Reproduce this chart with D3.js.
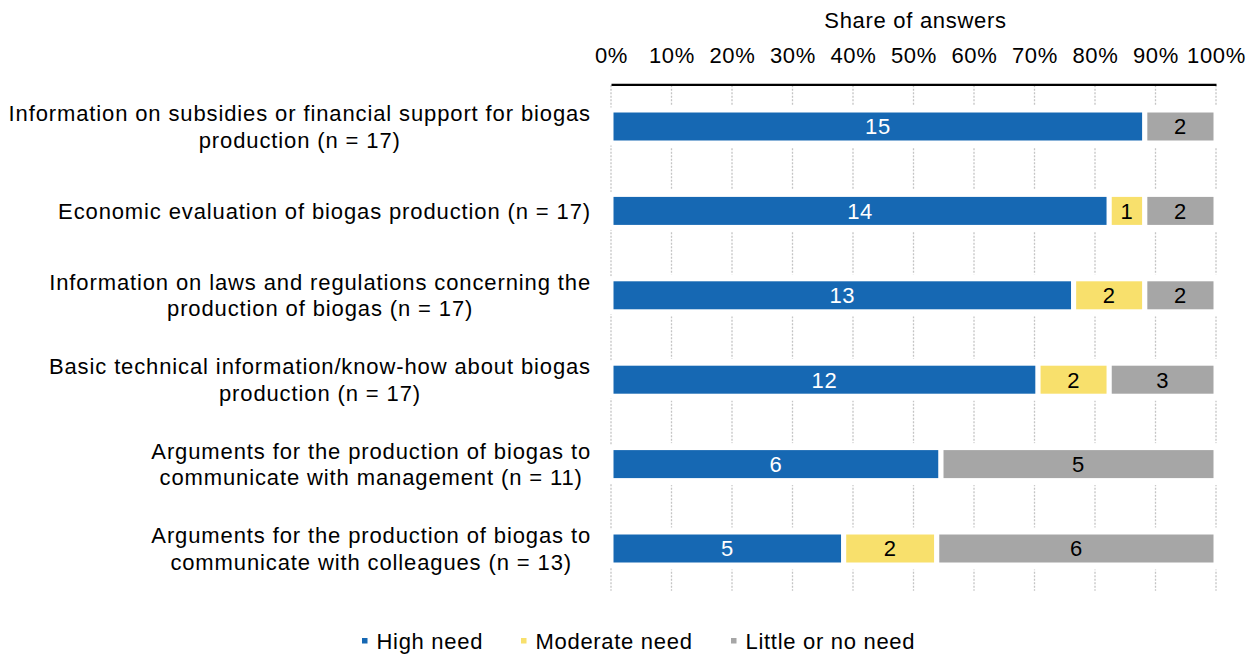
<!DOCTYPE html>
<html>
<head>
<meta charset="utf-8">
<script src="https://cdn.jsdelivr.net/npm/d3@7"></script>
<style>
  html, body { margin: 0; padding: 0; background: #fff; }
  svg { display: block; font-family: "Liberation Sans", Arial, sans-serif; }
</style>
</head>
<body>
<svg id="chart" width="1258" height="655"></svg>
<script>
const categories = [
  ["Information on subsidies or financial support for biogas", "production (n = 17)"],
  ["Economic evaluation of biogas production (n = 17)"],
  ["Information on laws and regulations concerning the", "production of biogas (n = 17)"],
  ["Basic technical information/know-how about biogas", "production (n = 17)"],
  ["Arguments for the production of biogas to", "communicate with management (n = 11)"],
  ["Arguments for the production of biogas to", "communicate with colleagues (n = 13)"]
];
const seriesNames = ["High need", "Moderate need", "Little or no need"];
const highNeed     = [15, 14, 13, 12, 6, 5];
const moderateNeed = [0, 1, 2, 2, 0, 2];
const littleNeed   = [2, 2, 2, 3, 5, 6];
const tickValues = [0, 0.1, 0.2, 0.3, 0.4, 0.5, 0.6, 0.7, 0.8, 0.9, 1.0];
const axisTitle = "Share of answers";

const colors = ["#1668b3", "#f8e06c", "#a6a6a6"];
const labelColors = ["#ffffff", "#000000", "#000000"];
const FS = 22, LS = 0.7, LS_CAT = 0.88;

const svg = d3.select("#chart");
const x0 = 611, x1 = 1216, y0 = 84.3, y1 = 590.7;

const x = d3.scaleLinear().domain([0, 1]).range([x0, x1]);
const y = d3.scaleBand().domain(d3.range(categories.length)).range([y0, y1]).paddingInner(0).paddingOuter(0);

const series = [highNeed, moderateNeed, littleNeed];
const rows = categories.map((c, i) => {
  const vals = series.map(s => s[i]);
  const n = d3.sum(vals);
  let acc = 0;
  const segs = vals.map((v, k) => {
    const s = { k, v, start: acc / n, end: (acc + v) / n };
    acc += v;
    return s;
  });
  return { i, segs };
});

// Gridlines (dotted)
svg.append("g").selectAll("line").data(tickValues).join("line")
  .attr("x1", d => x(d)).attr("x2", d => x(d))
  .attr("y1", y0 + 1).attr("y2", y1)
  .attr("stroke", "#c4c4c4").attr("stroke-width", 1.3)
  .attr("stroke-dasharray", "2,1.5");

// White masks around bars (hide gridlines, except 0%)
const bw = y.bandwidth();
svg.append("g").selectAll("rect").data(rows).join("rect")
  .attr("x", x(0) + 2).attr("width", x(1) - x(0) + 6)
  .attr("y", d => y(d.i) + bw / 2 - 21).attr("height", 42)
  .attr("fill", "#fff");

// Bars
const barH = 33;
const rowG = svg.append("g").selectAll("g").data(rows).join("g");
rowG.selectAll("rect").data(d => d.segs.filter(s => s.v > 0).map(s => ({...s, i: d.i}))).join("rect")
  .attr("x", d => x(d.start))
  .attr("width", d => x(d.end) - x(d.start))
  .attr("y", d => y(d.i) + bw / 2 - barH / 2)
  .attr("height", barH)
  .attr("fill", d => colors[d.k])
  .attr("stroke", "#fff").attr("stroke-width", 5);

rowG.selectAll("text").data(d => d.segs.filter(s => s.v > 0).map(s => ({...s, i: d.i}))).join("text")
  .attr("x", d => (x(d.start) + x(d.end)) / 2)
  .attr("y", d => y(d.i) + bw / 2)
  .attr("dy", "0.36em")
  .attr("text-anchor", "middle")
  .attr("font-size", FS)
  .attr("letter-spacing", LS)
  .attr("fill", d => labelColors[d.k])
  .text(d => d.v);

// Top axis
const axis = d3.axisTop(x).tickValues(tickValues).tickFormat(d3.format(".0%")).tickSize(0).tickPadding(0);
const ax = svg.append("g").attr("transform", `translate(0,${y0})`).call(axis);
ax.select(".domain").attr("stroke", "#000").attr("stroke-width", 2.2);
ax.selectAll(".tick text")
  .attr("y", 63 - y0)
  .attr("dy", 0)
  .attr("font-size", FS)
  .attr("letter-spacing", LS)
  .attr("font-family", "Liberation Sans, Arial, sans-serif")
  .attr("fill", "#000");

svg.append("text")
  .attr("x", (x0 + x1) / 2 + 2).attr("y", 28)
  .attr("text-anchor", "middle").attr("font-size", FS).attr("letter-spacing", LS).attr("fill", "#000")
  .text(axisTitle);

// Category labels: centered lines, block right-aligned at 590
const labG = svg.append("g");
rows.forEach(r => {
  const lines = categories[r.i];
  const t = labG.append("text").attr("font-size", FS).attr("letter-spacing", LS_CAT)
    .attr("fill", "#000").attr("text-anchor", "middle");
  const lh = 26.5;
  const cy = y(r.i) + bw / 2;
  const spans = lines.map((ln, j) => t.append("tspan")
    .attr("y", cy + (j - (lines.length - 1) / 2) * lh)
    .attr("dy", "0.36em")
    .text(ln));
  const widths = spans.map(s => s.node().getComputedTextLength());
  const maxW = d3.max(widths);
  const cx = 591 - maxW / 2;
  spans.forEach(s => s.attr("x", cx));
});

// Legend
const legendX = [362, 521, 731];
const lg = svg.append("g").selectAll("g").data(seriesNames).join("g")
  .attr("transform", (d, i) => `translate(${legendX[i]},641)`);
lg.append("rect").attr("x", 0).attr("y", -3).attr("width", 5.5).attr("height", 5.5)
  .attr("fill", (d, i) => colors[i]);
lg.append("text").attr("x", 14.5).attr("y", 0).attr("dy", "0.36em")
  .attr("font-size", FS).attr("letter-spacing", LS).attr("fill", "#000").text(d => d);
</script>
</body>
</html>
